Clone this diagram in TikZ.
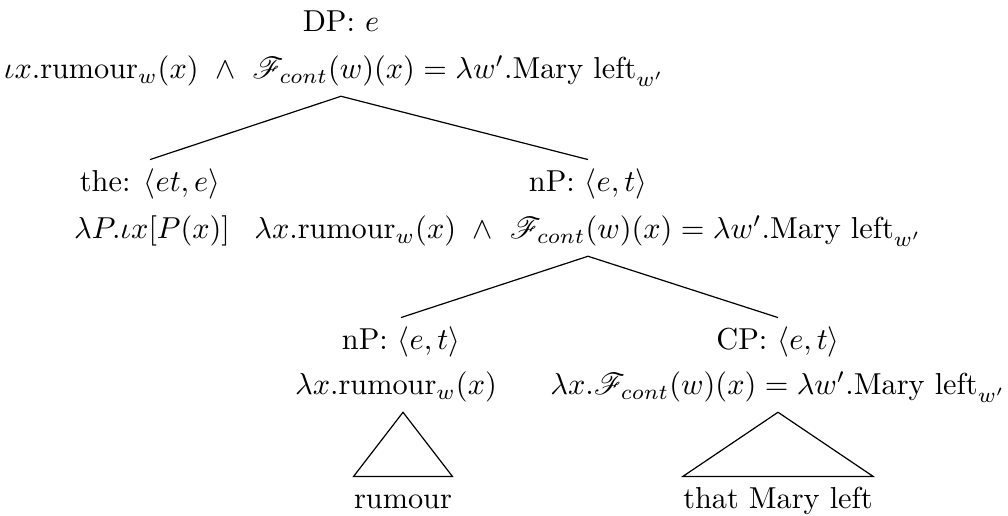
\documentclass[tikz,border=0pt]{standalone}
\usepackage{amsmath}
\usepackage{mathrsfs}

\begin{document}
\begin{tikzpicture}[x=0.33pt, y=-0.33pt,
  lbl/.style={anchor=base, inner sep=3pt, text height=7.5pt, text depth=2.5pt},
  leaf/.style={lbl, inner xsep=0pt}]
  \useasboundingbox (0,0) rectangle (1008,516);

  % Root DP
  \node[lbl] (dp) at (341,32) {DP: $e$};
  \node[lbl] (dpsem) at (334,79) {$\iota x.\text{rumour}_w(x) \ \wedge\ \mathscr{F}_{cont}(w)(x) = \lambda w'.\text{Mary left}_{w'}$};

  % Determiner and nP
  \node[lbl] (the) at (150,192) {the: $\langle et, e\rangle$};
  \node[lbl] (thesem) at (152,239) {$\lambda P.\iota x[P(x)]$};
  \node[lbl] (np) at (588,192) {nP: $\langle e, t\rangle$};
  \node[lbl] (npsem) at (588,239) {$\lambda x.\text{rumour}_w(x) \ \wedge\ \mathscr{F}_{cont}(w)(x) = \lambda w'.\text{Mary left}_{w'}$};

  % Lower nP and CP
  \node[lbl] (nnp) at (401,350) {nP: $\langle e, t\rangle$};
  \node[lbl] (nnpsem) at (396,395) {$\lambda x.\text{rumour}_w(x)$};
  \node[lbl] (cp) at (778,350) {CP: $\langle e, t\rangle$};
  \node[lbl] (cpsem) at (778,395) {$\lambda x.\mathscr{F}_{cont}(w)(x) = \lambda w'.\text{Mary left}_{w'}$};

  % Leaves
  \node[leaf] (rumour) at (403,509) {rumour};
  \node[leaf] (mary) at (778,509) {that Mary left};

  % Branches
  \draw (dp |- dpsem.south) -- (the.north);
  \draw (dp |- dpsem.south) -- (np.north);
  \draw (np |- npsem.south) -- (nnp.north);
  \draw (np |- npsem.south) -- (cp.north);

  % Triangles
  \draw (rumour |- nnpsem.south) -- (rumour.north west) -- (rumour.north east) -- cycle;
  \draw (mary |- cpsem.south) -- (mary.north west) -- (mary.north east) -- cycle;

\end{tikzpicture}
\end{document}
